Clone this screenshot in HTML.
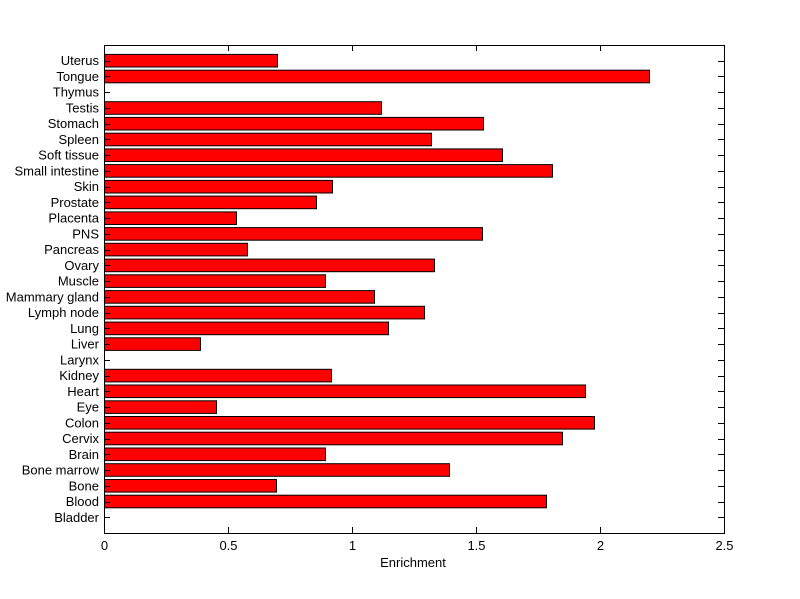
<!DOCTYPE html>
<html><head><meta charset="utf-8"><style>
html,body{margin:0;padding:0;background:#fff;}
svg{display:block;}
text{font-family:"Liberation Sans",sans-serif;font-size:13px;fill:#000;}
</style></head><body>
<svg width="800" height="599" viewBox="0 0 800 599" xmlns="http://www.w3.org/2000/svg">
<rect x="0" y="0" width="800" height="599" fill="#fff"/>
<g id="bars" stroke="#000" stroke-width="1" fill="#ff0000"></g>
<rect x="104.5" y="45.5" width="620" height="488" fill="none" stroke="#000"/>
<g id="ticks" stroke="#000" stroke-width="1"></g>
<g id="labels"></g>
<text x="413" y="567" text-anchor="middle">Enrichment</text>
</svg>
<script>
var names=["Bladder","Blood","Bone","Bone marrow","Brain","Cervix","Colon","Eye","Heart","Kidney","Larynx","Liver","Lung","Lymph node","Mammary gland","Muscle","Ovary","Pancreas","PNS","Placenta","Prostate","Skin","Small intestine","Soft tissue","Spleen","Stomach","Testis","Thymus","Tongue","Uterus"];
var ends=[104,546,276,449,325,562,594,216,585,331,104,200,388,424,374,325,434,247,482,236,316,332,552,502,431,483,381,104,649,277];
var ns="http://www.w3.org/2000/svg";
var bars=document.getElementById("bars"),ticks=document.getElementById("ticks"),labels=document.getElementById("labels");
function el(t,a,p){var e=document.createElementNS(ns,t);for(var k in a)e.setAttribute(k,a[k]);p.appendChild(e);return e;}
var step=488/31;
for(var i=0;i<30;i++){
 var cy=533-(i+1)*step;
 if(ends[i]>104){el("rect",{x:104.5,y:(cy-6.3).toFixed(1),width:ends[i]-104,height:12.6},bars);}
 var yy=Math.round(cy)+0.5;
 el("line",{x1:104,y1:yy,x2:110,y2:yy},ticks);
 el("line",{x1:718,y1:yy,x2:724,y2:yy},ticks);
 var t=el("text",{x:99,y:(cy+4.5).toFixed(1),"text-anchor":"end"},labels);t.textContent=names[i];
}
var xl=["0","0.5","1","1.5","2","2.5"];
for(var j=0;j<6;j++){
 var x=104.5+j*124;
 el("line",{x1:x,y1:533,x2:x,y2:527},ticks);
 el("line",{x1:x,y1:45,x2:x,y2:51},ticks);
 var t2=el("text",{x:x,y:550,"text-anchor":"middle"},labels);t2.textContent=xl[j];
}
</script>
</body></html>
